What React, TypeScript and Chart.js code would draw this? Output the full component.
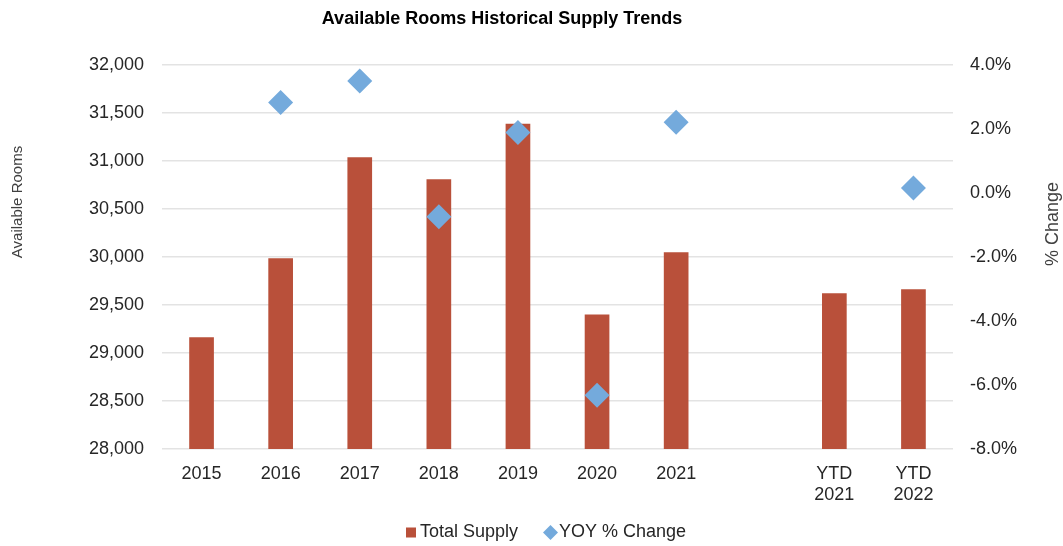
import React, { useEffect, useRef } from 'react';
import { Chart, registerables } from 'chart.js';

Chart.register(...registerables);

// ---- data ----
const chartTitle = 'Available Rooms Historical Supply Trends';
const leftAxisTitle = 'Available Rooms';
const rightAxisTitle = '% Change';
const categories: (string | string[])[] = [
  '2015', '2016', '2017', '2018', '2019', '2020', '2021', '', ['YTD', '2021'], ['YTD', '2022'],
];
const totalSupply: (number | null)[] = [29164, 29986, 31039, 30809, 31389, 29400, 30049, null, 29622, 29664];
const yoyChange: (number | null)[] = [null, 2.83, 3.5, -0.74, 1.89, -6.32, 2.21, null, null, 0.16];
const seriesNames = ['Total Supply', 'YOY % Change'];
const leftAxisRange = { min: 28000, max: 32000, step: 500 };
const rightAxisRange = { min: -8, max: 4, step: 2 };

const BAR_COLOR = '#B9503A';
const DIAMOND_COLOR = '#74AADC';
const TEXT_COLOR = '#262626';
const FONT = '"Liberation Sans", Arial, Helvetica, sans-serif';

// Titles and legend drawn on the canvas
const textPlugin = {
  id: 'extraText',
  afterDraw(chart: any) {
    const ctx = chart.ctx as CanvasRenderingContext2D;
    ctx.save();
    ctx.textAlign = 'center';
    ctx.textBaseline = 'middle';
    ctx.fillStyle = '#000000';
    ctx.font = `bold 18px ${FONT}`;
    ctx.fillText(chartTitle, 502, 19);

    ctx.fillStyle = '#404040';
    ctx.font = `15px ${FONT}`;
    ctx.save();
    ctx.translate(18, 202);
    ctx.rotate(-Math.PI / 2);
    ctx.fillText(leftAxisTitle, 0, 0);
    ctx.restore();

    ctx.font = `18px ${FONT}`;
    ctx.save();
    ctx.translate(1053, 224);
    ctx.rotate(-Math.PI / 2);
    ctx.fillText(rightAxisTitle, 0, 0);
    ctx.restore();

    // legend
    const ly = 532.5;
    ctx.fillStyle = BAR_COLOR;
    ctx.fillRect(406, ly - 5, 10, 10);
    ctx.fillStyle = TEXT_COLOR;
    ctx.font = `18px ${FONT}`;
    ctx.textAlign = 'left';
    ctx.fillText(seriesNames[0], 420, ly);
    const dx = 550.5;
    ctx.fillStyle = DIAMOND_COLOR;
    ctx.beginPath();
    ctx.moveTo(dx, ly - 7.5);
    ctx.lineTo(dx + 7.5, ly);
    ctx.lineTo(dx, ly + 7.5);
    ctx.lineTo(dx - 7.5, ly);
    ctx.closePath();
    ctx.fill();
    ctx.fillStyle = TEXT_COLOR;
    ctx.fillText(seriesNames[1], 559, ly);
    ctx.restore();
  },
};

export default function App() {
  const canvasRef = useRef<HTMLCanvasElement | null>(null);

  useEffect(() => {
    if (!canvasRef.current) return;
    const chart = new Chart(canvasRef.current, {
      type: 'bar',
      data: {
        labels: categories,
        datasets: [
          {
            type: 'bar',
            label: seriesNames[0],
            data: totalSupply,
            backgroundColor: BAR_COLOR,
            borderWidth: 0,
            yAxisID: 'y',
            categoryPercentage: 0.312,
            barPercentage: 1,
            order: 1,
          } as any,
          {
            type: 'line',
            label: seriesNames[1],
            data: yoyChange,
            showLine: false,
            yAxisID: 'y1',
            pointStyle: 'rectRot',
            pointRadius: 12.5,
            pointHoverRadius: 12.5,
            backgroundColor: DIAMOND_COLOR,
            borderColor: DIAMOND_COLOR,
            pointBackgroundColor: DIAMOND_COLOR,
            pointBorderColor: DIAMOND_COLOR,
            borderWidth: 0,
            pointBorderWidth: 0,
            order: 0,
          } as any,
        ],
      },
      plugins: [textPlugin],
      options: {
        animation: false,
        responsive: true,
        maintainAspectRatio: false,
        layout: { padding: { left: 35, right: 0, top: 65, bottom: 0 } },
        font: { family: FONT },
        plugins: {
          title: { display: false },
          tooltip: { enabled: false },
          legend: { display: false },
        },
        scales: {
          x: {
            grid: { display: false },
            border: { display: false },
            ticks: {
              color: TEXT_COLOR,
              font: { size: 18, family: FONT },
              padding: 6,
              maxRotation: 0,
              autoSkip: false,
            },
            afterFit: (scale: any) => { scale.height = 97; },
          },
          y: {
            position: 'left',
            min: leftAxisRange.min,
            max: leftAxisRange.max,
            border: { display: false },
            grid: { color: '#E3E3E3', lineWidth: 1.5, drawTicks: false },
            ticks: {
              stepSize: leftAxisRange.step,
              color: TEXT_COLOR,
              font: { size: 18, family: FONT },
              padding: 18,
              callback: (v: any) => Number(v).toLocaleString('en-US'),
            },
            afterFit: (scale: any) => { scale.width = 127; },
          },
          y1: {
            position: 'right',
            min: rightAxisRange.min,
            max: rightAxisRange.max,
            border: { display: false },
            grid: { display: false, drawTicks: false },
            ticks: {
              stepSize: rightAxisRange.step,
              color: TEXT_COLOR,
              font: { size: 18, family: FONT },
              padding: 17,
              callback: (v: any) => Number(v).toFixed(1) + '%',
            },
            afterFit: (scale: any) => { scale.width = 110; },
          },
        },
      } as any,
    });
    return () => chart.destroy();
  }, []);

  return (
    <div style={{ position: 'absolute', left: 0, top: 0, width: '1063px', height: '546px', background: '#fff' }}>
      <canvas ref={canvasRef} />
    </div>
  );
}
